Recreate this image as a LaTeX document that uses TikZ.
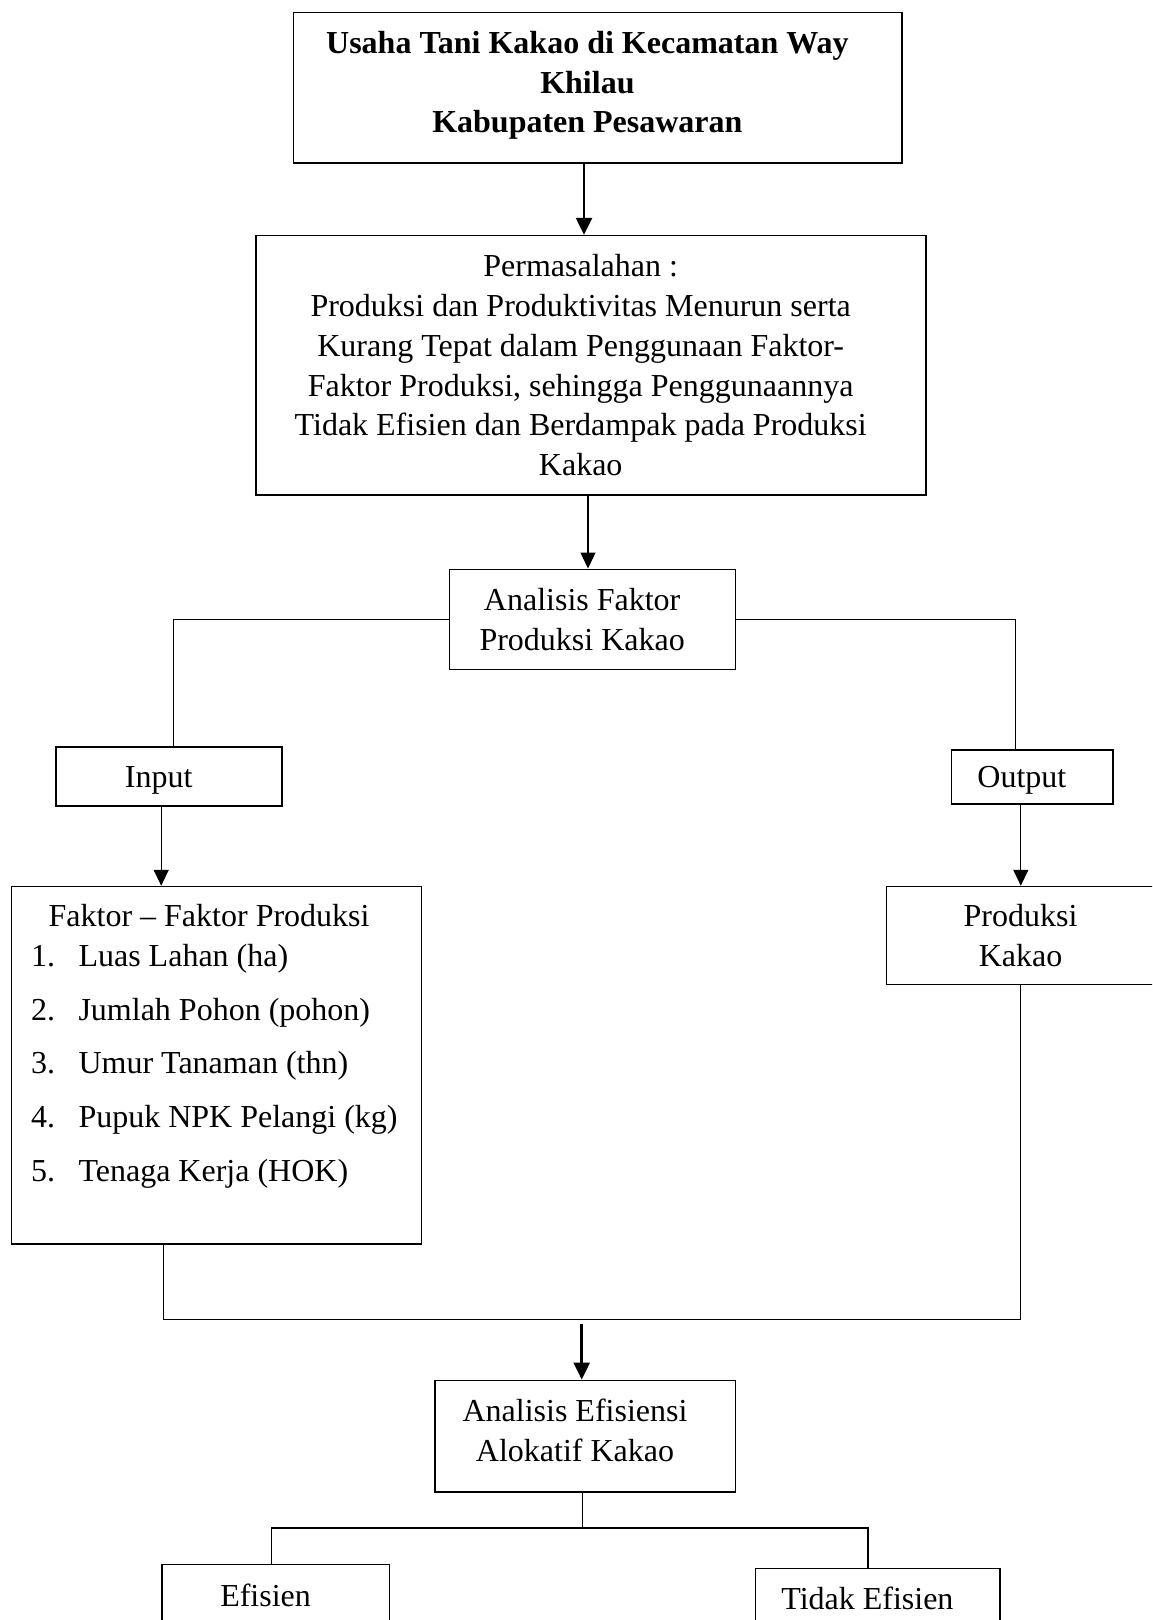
\documentclass[tikz,border=0pt]{standalone}
\usepackage{fontspec}
\setmainfont{Liberation Serif}
\usetikzlibrary{arrows.meta}
\newsavebox{\isibox}
\newcommand{\isi}[1]{\sbox\isibox{\begin{tabular}{@{}c@{}}#1\end{tabular}}%
  \rule[-\dp\isibox]{0pt}{\dimexpr\ht\isibox+\dp\isibox+6.2pt\relax}\usebox\isibox\hspace*{20.6pt}}

\begin{document}
\begin{tikzpicture}[x=1pt, y=-1pt,
  every node/.style={font=\fontsize{32}{39.7}\selectfont},
  kotak/.style={draw, line width=1.6pt, inner sep=0pt},
  garis/.style={line width=1.3pt},
  panah/.style={garis, -{Triangle[width=15pt,length=16pt]}},
  panahtebal/.style={line width=2.6pt, -{Triangle[width=16pt,length=17pt]}}]
  \useasboundingbox (0,0) rectangle (1152,1620);
  \clip (0,0) rectangle (1152,1620);
  \fill[white] (0,0) rectangle (1152,1620);

  \node[kotak, minimum width=608.6, minimum height=150.8] (judul) at (597.7,87.8)
    {\bfseries\isi{Usaha Tani Kakao di Kecamatan Way\\ Khilau\\ Kabupaten Pesawaran\rule[-23pt]{0pt}{0pt}}};
  \node[kotak, minimum width=669.5, minimum height=259.3] (masalah) at (591.0,365.2)
    {\isi{Permasalahan :\\ Produksi dan Produktivitas Menurun serta\\ Kurang Tepat dalam Penggunaan Faktor-\\ Faktor Produksi, sehingga Penggunaannya\\ Tidak Efisien dan Berdampak pada Produksi\\ Kakao}};
  \node[kotak, minimum width=286.2, minimum height=100.2] (afaktor) at (592.5,619.4)
    {\isi{Analisis Faktor\\ Produksi Kakao}};
  \node[kotak, minimum width=226.3, minimum height=58.9] (input) at (169.0,776.7) {\isi{Input}};
  \node[kotak, minimum width=161.2, minimum height=53.7] (output) at (1032.2,776.9) {\isi{Output}};
  \node[kotak, minimum width=410.1, minimum height=357.5, text width=370.9, inner xsep=19.6pt, align=left] (faktor) at (216.5,1065.3)
    {\spaceskip=0pt\xspaceskip=0pt
     \hspace*{17.6pt}\mbox{Faktor – Faktor Produksi}\\
     \makebox[47.5pt][l]{1.}\mbox{Luas Lahan (ha)}\\[14pt]
     \makebox[47.5pt][l]{2.}\mbox{Jumlah Pohon (pohon)}\\[14pt]
     \makebox[47.5pt][l]{3.}\mbox{Umur Tanaman (thn)}\\[14pt]
     \makebox[47.5pt][l]{4.}\mbox{Pupuk NPK Pelangi (kg)}\\[14pt]
     \makebox[47.5pt][l]{5.}\mbox{Tenaga Kerja (HOK)}\rule[-45pt]{0pt}{0pt}};
  \node[kotak, minimum width=288.5, minimum height=98.1] (produksi) at (1030.8,935.6)
    {\isi{Produksi\\ Kakao}};
  \node[kotak, minimum width=300.6, minimum height=111.7] (aefisien) at (585.3,1436.2)
    {\isi{Analisis Efisiensi\\ Alokatif Kakao\rule[-23pt]{0pt}{0pt}}};
  \node[kotak, minimum width=227.3, minimum height=62] (efisien) at (275.9,1595.3) {\isi{Efisien}};
  \node[kotak, minimum width=244.8, minimum height=60] (tidak) at (877.7,1598.4) {\isi{Tidak Efisien}};

  \coordinate (a1) at (584,0);
  \coordinate (a2) at (588,0);
  \coordinate (cabkiri) at (173.6,0);
  \coordinate (cabkanan) at (1015.6,0);
  \coordinate (a3) at (161.2,0);
  \coordinate (a4) at (1020.8,0);
  \coordinate (gabkiri) at (163.2,1319.4);
  \coordinate (gabkanan) at (1020.5,1319.4);
  \coordinate (a5) at (581.7,1324);
  \coordinate (pisah) at (582.7,1528);
  \coordinate (piskiri) at (271.7,1528);
  \coordinate (piskanan) at (868,1528);

  \draw[panahtebal] (judul.south -| a1) -- (masalah.north -| a1);
  \draw[panah] (masalah.south -| a2) -- (afaktor.north -| a2);
  \draw[garis] (afaktor.west) -| (input.north -| cabkiri);
  \draw[garis] (afaktor.east) -| (output.north -| cabkanan);
  \draw[panah] (input.south -| a3) -- (faktor.north -| a3);
  \draw[panah] (output.south -| a4) -- (produksi.north -| a4);
  \draw[garis] (faktor.south -| gabkiri) -- (gabkiri) -- (gabkanan) -- (produksi.south -| gabkanan);
  \draw[panahtebal] (a5) -- (aefisien.north -| a5);
  \draw[garis] (aefisien.south -| pisah) -- (pisah);
  \draw[garis] (efisien.north -| piskiri) -- (piskiri) -- (piskanan) -- (tidak.north -| piskanan);
\end{tikzpicture}
\end{document}
